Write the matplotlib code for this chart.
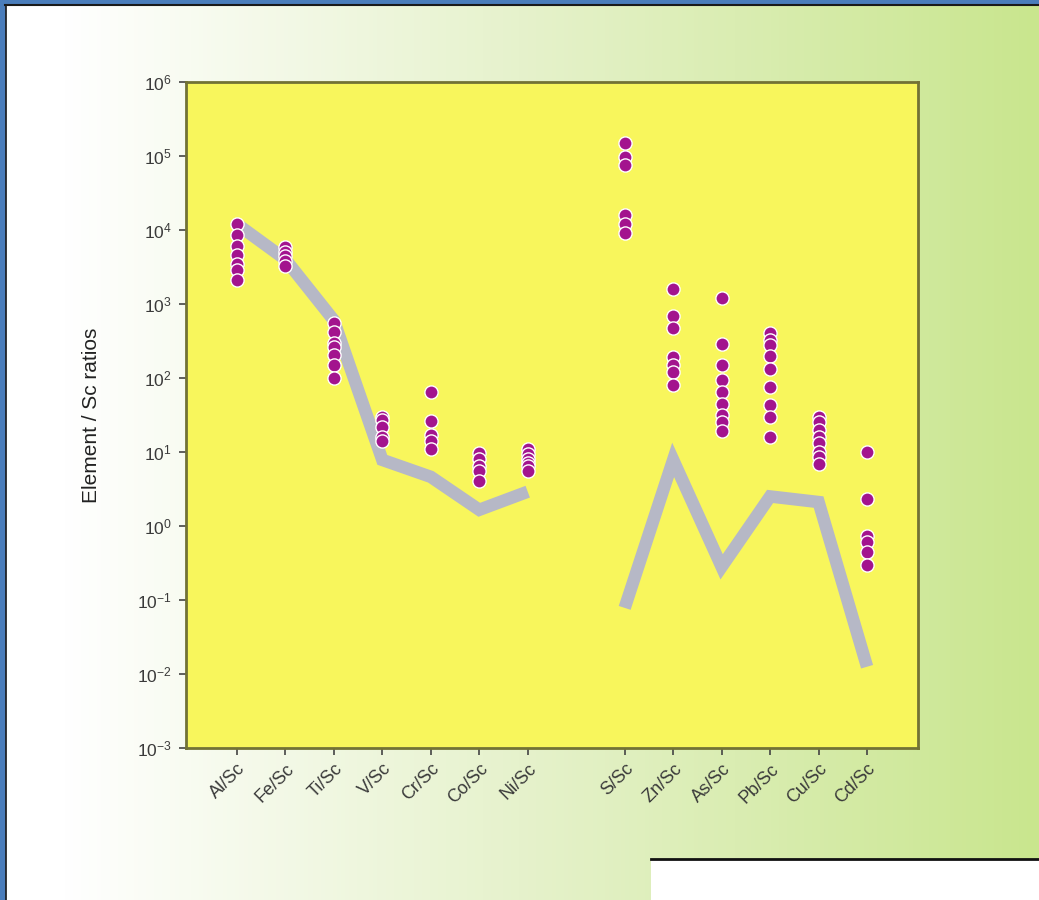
import numpy as np
import matplotlib.pyplot as plt
from matplotlib.colors import LinearSegmentedColormap
from matplotlib.patches import Rectangle

plt.rcParams['font.family'] = ['Liberation Sans', 'DejaVu Sans']
plt.rcParams['mathtext.fontset'] = 'custom'
plt.rcParams['mathtext.rm'] = 'Liberation Sans'
plt.rcParams['mathtext.it'] = 'Liberation Sans'
plt.rcParams['axes.unicode_minus'] = False

# element ratios, two groups with a gap between them
labels = ['Al/Sc', 'Fe/Sc', 'Ti/Sc', 'V/Sc', 'Cr/Sc', 'Co/Sc', 'Ni/Sc',
          'S/Sc', 'Zn/Sc', 'As/Sc', 'Pb/Sc', 'Cu/Sc', 'Cd/Sc']
xpos = [1, 2, 3, 4, 5, 6, 7, 9, 10, 11, 12, 13, 14]

# crustal reference line (drawn per group)
crust = [1.2e4, 4.0e3, 6.0e2, 7.8, 4.6, 1.65, 2.9,
         0.078, 7.8, 0.28, 2.5, 2.1, 0.0125]

# measured samples per ratio
samples = [
    [1.2e4, 8.5e3, 6.0e3, 4.6e3, 3.5e3, 2.9e3, 2.1e3],
    [5.8e3, 5.0e3, 4.4e3, 3.8e3, 3.3e3],
    [550, 420, 300, 260, 205, 150, 100],
    [30, 27, 22, 16, 14],
    [65, 26, 17, 14, 11],
    [9.8, 8.0, 6.5, 5.5, 4.0],
    [11, 9.5, 8.0, 7.0, 6.5, 5.5],
    [1.5e5, 9.6e4, 7.5e4, 1.6e4, 1.2e4, 9.0e3],
    [1600, 680, 470, 190, 150, 120, 80],
    [1200, 290, 150, 95, 65, 45, 32, 25, 19],
    [400, 330, 280, 200, 130, 75, 43, 30, 16],
    [30, 25, 20, 16, 13, 10, 8.5, 6.8],
    [10, 2.3, 0.72, 0.6, 0.45, 0.3],
]

fig = plt.figure(figsize=(10.39, 9.0), dpi=100)

# gradient backdrop
bg = fig.add_axes([0, 0, 1, 1], zorder=-10)
cmap = LinearSegmentedColormap.from_list(
    'bg', [(0.0, '#ffffff'), (0.06, '#ffffff'), (0.5, '#e6f2cc'), (1.0, '#c9e68e')])
bg.imshow(np.linspace(0, 1, 256)[None, :], aspect='auto', cmap=cmap,
          extent=[0, 1, 0, 1])
bg.set_xlim(0, 1)
bg.set_ylim(0, 1)
bg.axis('off')

# frame around the slide
blue = '#4a7dbb'
bg.add_patch(Rectangle((0, 0.9955), 1, 0.0045, color=blue, zorder=5))
bg.add_patch(Rectangle((0, 0), 0.005, 1, color=blue, zorder=5))
bg.plot([0.005, 1], [0.995, 0.995], color='#1a1a1a', lw=1.5, zorder=6)
bg.plot([0.0055, 0.0055], [0, 0.995], color='#1a1a1a', lw=1.2, zorder=6)
bg.add_patch(Rectangle((0.6265, 0), 0.3735, 0.0456, facecolor='white',
                       edgecolor='none', zorder=5))
bg.plot([0.6265, 1], [0.0456, 0.0456], color='#111111', lw=2, zorder=6)

ax = fig.add_axes([0.179, 0.169, 0.7045, 0.74])
ax.set_facecolor('#f8f65c')

# line is broken between the two element groups
for sl in (slice(0, 7), slice(7, 13)):
    ax.plot(xpos[sl], crust[sl], color='#b6b8c6', lw=9, solid_joinstyle='miter',
            solid_capstyle='butt', zorder=2)

for x, vals in zip(xpos, samples):
    ax.scatter([x] * len(vals), vals, s=90, color='#a3148e',
               edgecolors='white', linewidths=1.0, zorder=3)

ax.set_yscale('log')
ax.set_ylim(1e-3, 1e6)
ax.set_xlim(-0.05, 15.05)
ax.set_yticks([10.0 ** k for k in range(-3, 7)])
ax.set_yticklabels(['$10^{%d}$' % k for k in range(-3, 7)])
ax.minorticks_off()
ax.set_xticks(xpos)
ax.set_xticklabels(labels, rotation=45, ha='right', rotation_mode='anchor')

for s in ax.spines.values():
    s.set_color('#727235')
    s.set_linewidth(2)
ax.tick_params(axis='both', colors='#444444', labelcolor='#3a3a3a',
               length=5, width=1.2)
ax.tick_params(axis='y', pad=5, labelsize=12.5)
ax.tick_params(axis='x', pad=4, labelsize=13)

ax.set_ylabel('Element / Sc ratios', fontsize=15, color='#222222', labelpad=26)

fig.savefig('out.png', dpi=100)
